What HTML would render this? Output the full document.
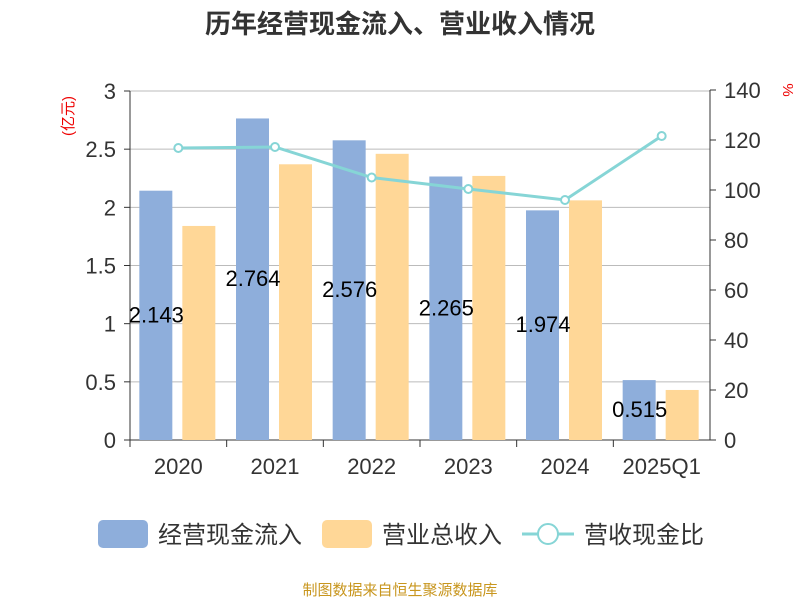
<!DOCTYPE html>
<html><head><meta charset="utf-8"><style>
body{margin:0;background:#fff;font-family:"Liberation Sans","Noto Sans CJK SC",sans-serif;}
</style></head><body>
<svg width="800" height="600" xmlns="http://www.w3.org/2000/svg" style="font-family:'Liberation Sans','Noto Sans CJK SC',sans-serif">
<text x="400" y="33" text-anchor="middle" font-size="26" font-weight="bold" fill="#333">历年经营现金流入、营业收入情况</text>
<text transform="translate(73,116) rotate(-90)" text-anchor="middle" font-size="15" fill="#e00">(亿元)</text>
<text transform="translate(783,90) rotate(90)" text-anchor="middle" font-size="15" fill="#e00">%</text>
<g id="grid"></g><g id="bars"></g><g id="axes"></g><g id="line"></g><g id="labels"></g>
<g font-size="24" fill="#333">
<rect x="98" y="520" width="50" height="28" rx="5" fill="#8eaedb"/>
<text x="158" y="543">经营现金流入</text>
<rect x="322" y="520" width="50" height="28" rx="5" fill="#ffd797"/>
<text x="382" y="543">营业总收入</text>
<line x1="522" y1="534" x2="574" y2="534" stroke="#86d5d6" stroke-width="3"/>
<circle cx="548" cy="534" r="10" fill="#fff" stroke="#86d5d6" stroke-width="2"/>
<text x="584" y="543">营收现金比</text>
</g>
<text x="400" y="595" text-anchor="middle" font-size="15" fill="#c8961e">制图数据来自恒生聚源数据库</text>
</svg>
<script>
const categories=["2020","2021","2022","2023","2024","2025Q1"];
const cashInflow=[2.143,2.764,2.576,2.265,1.974,0.515];
const revenue=[1.84,2.37,2.46,2.27,2.06,0.43];
const ratio=[116.8,117.2,105,100.4,96,121.6];
const leftTicks=[0,0.5,1,1.5,2,2.5,3];
const rightTicks=[0,20,40,60,80,100,120,140];
const NS="http://www.w3.org/2000/svg";
const X0=130,X1=710,Y0=440,YT=91;
const yL=v=>Y0-(v/3)*(Y0-YT);
const yR=v=>Y0-(v/140)*(Y0-90);
const bw=(X1-X0)/categories.length;
const xc=i=>X0+bw*(i+0.5);
function mk(parent,tag,attrs,text){const e=document.createElementNS(NS,tag);for(const k in attrs)e.setAttribute(k,attrs[k]);if(text!==undefined)e.textContent=text;document.getElementById(parent).appendChild(e);return e;}
leftTicks.forEach(t=>{
 const g=mk('grid','line',{x1:X0,x2:X1,y1:yL(t),y2:yL(t),stroke:t===0?'#333':'#bbb','stroke-width':1});
 
 
 const tk=mk('axes','line',{x1:X0-6,x2:X0,y1:yL(t),y2:yL(t),stroke:'#333'});
 
 
 const l=mk('axes','text',{x:X0-14,y:yL(t)+8,'text-anchor':'end','font-size':22,fill:'#333'},String(t));
 
 
});
rightTicks.forEach(t=>{
 const tk=mk('axes','line',{x1:X1,x2:X1+6,y1:yR(t),y2:yR(t),stroke:'#333'});
 
 
 const l=mk('axes','text',{x:X1+14,y:yR(t)+8,'font-size':22,fill:'#333'},String(t));
 
 
});
let a=mk('axes','line',{x1:X0,x2:X0,y1:YT,y2:Y0,stroke:'#333'});


a=mk('axes','line',{x1:X1,x2:X1,y1:90,y2:Y0,stroke:'#333'});


categories.forEach((c,i)=>{
 const tk=mk('axes','line',{x1:X0+bw*i,x2:X0+bw*i,y1:Y0,y2:Y0+7,stroke:'#333'});
 
 
 const l=mk('axes','text',{x:xc(i),y:474,'text-anchor':'middle','font-size':22,fill:'#333'},c);
 
 
 const b1=mk('bars','rect',{x:xc(i)-39,y:yL(cashInflow[i]),width:33,height:Y0-yL(cashInflow[i]),fill:'#8eaedb'});
 
 
 const b2=mk('bars','rect',{x:xc(i)+4,y:yL(revenue[i]),width:33,height:Y0-yL(revenue[i]),fill:'#ffd797'});
 
 
 const v=mk('labels','text',{x:xc(i)-22,y:(yL(cashInflow[i])+Y0)/2+7,'text-anchor':'middle','font-size':22,fill:'#000'},cashInflow[i].toFixed(3));
 
 
});
const p=mk('line','polyline',{points:ratio.map((v,i)=>xc(i)+','+yR(v)).join(' '),fill:'none',stroke:'#86d5d6','stroke-width':3});


ratio.forEach((v,i)=>{
 const c=mk('line','circle',{cx:xc(i),cy:yR(v),r:4,fill:'#fff',stroke:'#86d5d6','stroke-width':2});
 
 
});
</script>
</body></html>
